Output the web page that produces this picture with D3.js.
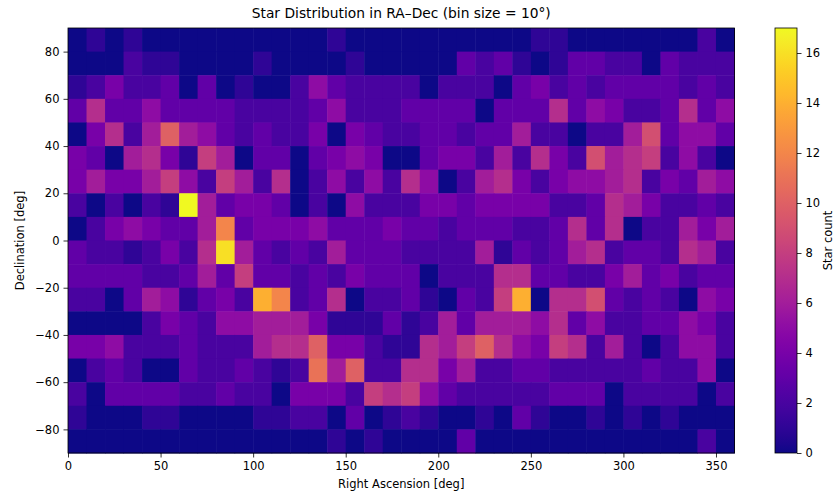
<!DOCTYPE html>
<html>
<head>
<meta charset="utf-8">
<script src="https://cdn.jsdelivr.net/npm/d3@7"></script>
<style>
  body { margin: 0; background: #fff; }
  svg { font-family: "DejaVu Sans", sans-serif; }
</style>
</head>
<body>
<svg id="chart" width="836" height="495"></svg>
<script>
// bin starts (deg)
const raStarts = [0,10,20,30,40,50,60,70,80,90,100,110,120,130,140,150,160,170,
                  180,190,200,210,220,230,240,250,260,270,280,290,300,310,320,330,340,350];
const decStarts = [80,70,60,50,40,30,20,10,0,-10,-20,-30,-40,-50,-60,-70,-80,-90];

// star counts, one row per dec bin (top row = 80..90)
const counts = [
  [0,1,0,1,0,0,0,0,0,0,0,0, 0,0,1,0,0,0,0,0,0,0,0,0, 0,1,1,0,0,0,0,0,0,0,2,0],
  [0,0,0,2,1,1,0,0,0,0,1,0, 0,0,0,1,0,0,0,0,0,3,2,3, 1,0,1,3,3,2,2,0,3,2,2,2],
  [1,2,4,2,2,3,0,3,0,1,0,0, 2,5,3,2,2,2,2,0,2,2,2,0, 3,4,2,3,2,3,3,3,3,2,3,2],
  [3,7,3,3,5,3,3,3,3,2,2,2, 2,3,5,2,2,2,3,3,3,3,0,3, 3,3,7,3,5,4,2,2,3,7,3,5],
  [0,4,7,2,6,10,6,5,3,2,3,2, 2,4,0,4,3,2,2,3,3,2,3,3, 6,2,2,0,2,2,6,9,3,5,5,3],
  [4,3,0,6,7,4,1,8,6,0,3,3, 0,3,4,5,4,0,0,3,4,4,2,6, 2,7,4,2,9,6,7,8,2,5,2,0],
  [4,6,4,4,6,8,5,2,8,6,2,7, 0,2,5,2,5,2,7,5,0,2,6,7, 4,2,4,5,5,6,7,2,4,3,6,5],
  [2,0,2,0,2,1,17,6,3,4,4,3, 0,2,0,5,2,2,2,4,4,3,4,4, 4,4,2,2,3,7,6,4,2,2,3,2],
  [0,2,4,5,4,3,3,6,12,3,4,4, 4,5,3,3,3,4,3,3,2,3,3,3, 2,2,3,7,3,7,0,2,2,6,4,6],
  [3,2,2,1,2,4,2,7,16,6,3,2, 3,2,6,3,3,3,2,2,2,2,6,1, 3,2,3,6,7,2,3,3,2,7,6,2],
  [3,3,3,3,2,2,3,6,3,8,3,3, 2,3,2,4,3,3,3,0,2,2,2,7, 7,3,3,2,2,4,6,3,4,2,3,3],
  [2,2,0,3,6,5,1,3,4,2,14,12, 2,3,7,0,2,2,3,1,0,3,2,8, 14,0,7,7,9,3,2,3,2,0,5,4],
  [0,0,0,0,2,4,3,2,5,5,6,6, 6,4,1,1,1,3,1,2,6,3,6,6, 6,5,7,3,5,2,2,3,3,5,4,2],
  [4,4,5,2,2,2,3,2,2,2,6,7, 7,10,4,4,2,1,1,7,6,8,10,7, 5,4,8,7,2,6,2,0,2,5,5,2],
  [0,2,3,2,0,0,3,2,2,3,2,1, 2,11,6,10,2,2,7,7,4,6,2,2, 3,3,2,2,2,2,2,3,2,2,5,0],
  [2,0,3,3,3,3,2,2,3,2,2,0, 4,4,4,2,8,7,8,5,3,2,2,2, 2,2,3,3,3,0,2,2,2,2,0,2],
  [1,0,0,0,1,1,0,0,0,0,1,1, 2,2,0,3,0,1,2,1,0,0,1,0, 3,1,0,0,1,0,1,0,1,0,0,0],
  [0,0,0,0,0,0,0,0,0,0,0,0, 0,0,1,0,1,0,0,0,0,3,0,0, 0,0,0,0,0,0,0,0,0,0,2,0]
];

const xTicks = [0,50,100,150,200,250,300,350];
const yTicks = [-80,-60,-40,-20,0,20,40,60,80];
const cbTicks = [0,2,4,6,8,10,12,14,16];

const svg = d3.select('#chart');
const width = 836, height = 495;

// plot box
const margin = { top: 28, right: 101.5, bottom: 42, left: 68 };
const plotW = width - margin.left - margin.right;
const plotH = height - margin.top - margin.bottom;

const x = d3.scaleLinear().domain([0, 360]).range([margin.left, margin.left + plotW]);
const y = d3.scaleLinear().domain([-90, 90]).range([margin.top + plotH, margin.top]);
const vmax = d3.max(counts.flat());
const color = d3.scaleSequential(d3.interpolatePlasma).domain([0, vmax]);

// flatten into cells
const cells = [];
counts.forEach((row, i) => {
    row.forEach((v, j) => {
        cells.push({ ra: raStarts[j], dec: decStarts[i], v });
    });
});

svg.append('g')
    .selectAll('rect')
    .data(cells)
    .join('rect')
    .attr('x', d => x(d.ra))
    .attr('y', d => y(d.dec + 10))
    .attr('width', d => x(d.ra + 10) - x(d.ra) + 0.5)
    .attr('height', d => y(d.dec) - y(d.dec + 10) + 0.5)
    .attr('fill', d => color(d.v));

// axes
const xAxis = svg.append('g')
    .attr('transform', `translate(0,${margin.top + plotH})`)
    .call(d3.axisBottom(x).tickValues(xTicks).tickSize(4.5).tickPadding(4));
const yAxis = svg.append('g')
    .attr('transform', `translate(${margin.left},0)`)
    .call(d3.axisLeft(y).tickValues(yTicks).tickSize(4.5).tickPadding(4));

[xAxis, yAxis].forEach(g => {
    g.select('.domain').remove();
    g.selectAll('text').attr('font-size', 11.5).attr('fill', '#000')
        .attr('font-family', '"DejaVu Sans", sans-serif');
    g.selectAll('line').attr('stroke', '#000').attr('stroke-width', 0.8);
});

// frame
svg.append('rect')
    .attr('x', margin.left).attr('y', margin.top)
    .attr('width', plotW).attr('height', plotH)
    .attr('fill', 'none').attr('stroke', '#000').attr('stroke-width', 0.8);

// title and labels
svg.append('text')
    .attr('x', margin.left + plotW / 2).attr('y', 18)
    .attr('text-anchor', 'middle').attr('font-size', 13.8)
    .text('Star Distribution in RA–Dec (bin size = 10°)');

svg.append('text')
    .attr('x', margin.left + plotW / 2).attr('y', 488)
    .attr('text-anchor', 'middle').attr('font-size', 11.5)
    .text('Right Ascension [deg]');

svg.append('text')
    .attr('transform', `translate(24,${margin.top + plotH / 2}) rotate(-90)`)
    .attr('text-anchor', 'middle').attr('font-size', 11.5)
    .text('Declination [deg]');

// colorbar
const cbX = 775, cbW = 22;
const cbY = d3.scaleLinear().domain([0, vmax]).range([margin.top + plotH, margin.top]);

const grad = svg.append('defs').append('linearGradient')
    .attr('id', 'cb-grad')
    .attr('x1', 0).attr('y1', 1).attr('x2', 0).attr('y2', 0);
grad.selectAll('stop')
    .data(d3.range(0, 1.0001, 0.02))
    .join('stop')
    .attr('offset', d => d)
    .attr('stop-color', d => d3.interpolatePlasma(d));

svg.append('rect')
    .attr('x', cbX).attr('y', margin.top)
    .attr('width', cbW).attr('height', plotH)
    .attr('fill', 'url(#cb-grad)')
    .attr('stroke', '#000').attr('stroke-width', 0.8);

const cbAxis = svg.append('g')
    .attr('transform', `translate(${cbX + cbW},0)`)
    .call(d3.axisRight(cbY).tickValues(cbTicks).tickSize(4.5).tickPadding(4));
cbAxis.select('.domain').remove();
cbAxis.selectAll('text').attr('font-size', 11.5).attr('fill', '#000')
    .attr('font-family', '"DejaVu Sans", sans-serif');
cbAxis.selectAll('line').attr('stroke', '#000').attr('stroke-width', 0.8);

svg.append('text')
    .attr('transform', `translate(832,${margin.top + plotH / 2}) rotate(-90)`)
    .attr('text-anchor', 'middle').attr('font-size', 11.5)
    .text('Star count');
</script>
</body>
</html>
